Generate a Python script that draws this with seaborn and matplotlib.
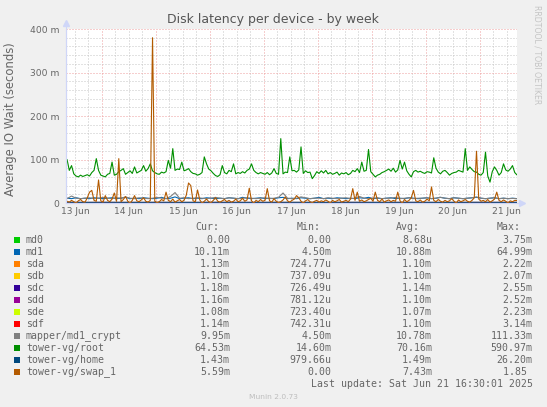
import numpy as np
import pandas as pd
import matplotlib
matplotlib.use("Agg")
import matplotlib.pyplot as plt
import matplotlib.dates as mdates
from matplotlib.ticker import MultipleLocator, FuncFormatter, NullFormatter
from matplotlib.patches import Rectangle
import seaborn as sns

# ---------------- data ----------------
series_names = ["md0", "md1", "sda", "sdb", "sdc", "sdd", "sde", "sdf",
                "mapper/md1_crypt", "tower-vg/root", "tower-vg/home", "tower-vg/swap_1"]
series_colors = ["#00CC00", "#0066B3", "#FF8000", "#FFCC00", "#330099", "#990099",
                 "#CCFF00", "#FF0000", "#808080", "#008F00", "#00487D", "#B35A00"]
cur_vals = ["0.00", "10.11m", "1.13m", "1.10m", "1.18m", "1.16m", "1.08m", "1.14m",
            "9.95m", "64.53m", "1.43m", "5.59m"]
min_vals = ["0.00", "4.50m", "724.77u", "737.09u", "726.49u", "781.12u", "723.40u",
            "742.31u", "4.50m", "14.60m", "979.66u", "0.00"]
avg_vals = ["8.68u", "10.88m", "1.10m", "1.10m", "1.14m", "1.10m", "1.07m", "1.10m",
            "10.78m", "70.16m", "1.49m", "7.43m"]
max_vals = ["3.75m", "64.99m", "2.22m", "2.07m", "2.55m", "2.52m", "2.23m", "3.14m",
            "111.33m", "590.97m", "26.20m", "1.85 "]

y_ticks_ms = [0, 100, 200, 300, 400]

# values in milliseconds (hourly for root / swap)
root_ms = [100, 75, 86, 67, 62, 60, 64, 61, 63, 65, 62, 70, 75, 102, 75, 64, 62, 60, 66, 68, 94, 64, 66, 72,
           75, 79, 66, 70, 74, 68, 83, 69, 72, 75, 86, 73, 79, 90, 74, 70, 67, 66, 71, 69, 72, 98, 80, 125,
           75, 78, 77, 94, 74, 76, 79, 72, 68, 67, 64, 66, 70, 106, 90, 78, 74, 68, 63, 61, 65, 86, 70, 67,
           75, 72, 90, 67, 70, 68, 72, 69, 75, 78, 90, 75, 70, 67, 70, 68, 66, 70, 65, 69, 79, 68, 66, 148,
           67, 71, 70, 106, 74, 75, 71, 76, 129, 68, 74, 70, 71, 56, 63, 72, 68, 74, 69, 75, 67, 70, 66, 68,
           71, 64, 69, 67, 70, 65, 68, 75, 72, 79, 70, 94, 73, 75, 123, 72, 66, 60, 64, 66, 70, 72, 75, 78,
           73, 80, 71, 76, 98, 78, 94, 74, 66, 60, 72, 75, 71, 73, 70, 68, 72, 71, 69, 104, 80, 71, 67, 73,
           75, 70, 64, 68, 70, 71, 75, 73, 71, 125, 75, 83, 77, 72, 71, 66, 64, 70, 117, 62, 48, 72, 83, 75,
           64, 70, 90, 76, 73, 78, 86, 70, 64.5]

swap_ms = [4, 2, 6, 3, 0, 5, 8, 3, 2, 12, 25, 29, 6, 4, 53, 5, 2, 17, 6, 3, 9, 23, 4, 102,
           3, 8, 15, 4, 0, 6, 17, 5, 3, 7, 12, 4, 2, 6, 380, 4, 1, 3, 8, 5, 25, 6, 3, 9,
           2, 5, 8, 3, 6, 18, 46, 40, 5, 3, 30, 7, 0, 4, 9, 3, 1, 6, 12, 4, 2, 5, 8, 3,
           6, 2, 4, 9, 3, 5, 11, 4, 7, 34, 5, 0, 6, 3, 8, 4, 6, 33, 5, 2, 10, 4, 1, 3,
           7, 14, 5, 2, 6, 9, 17, 12, 4, 0, 5, 8, 3, 1, 4, 6, 2, 5, 3, 7, 4, 0, 6, 3,
           5, 8, 2, 4, 6, 3, 9, 33, 6, 25, 4, 7, 3, 5, 8, 11, 4, 25, 6, 3, 9, 2, 5, 7,
           3, 6, 4, 25, 5, 0, 8, 3, 6, 12, 29, 5, 3, 7, 2, 4, 9, 5, 37, 6, 3, 8, 4, 2,
           6, 3, 5, 10, 4, 0, 7, 3, 5, 8, 4, 2, 6, 12, 119, 9, 4, 6, 3, 8, 2, 5, 9, 25,
           6, 3, 7, 4, 0, 5, 3, 6, 5.6]

# two-hourly
md1_ms = [11, 10, 12, 10, 11, 10, 12, 11, 10, 11,
          12, 10, 11, 13, 10, 11, 10, 12, 11, 10,
          11, 13, 10, 11, 14, 10, 11, 12, 10, 11,
          10, 12, 11, 10, 11, 10, 12, 11, 10, 13,
          11, 10, 11, 12, 10, 11, 10, 12, 13, 10,
          11, 10, 12, 11, 10, 11, 13, 10, 11, 10,
          12, 11, 10, 11, 10, 12, 11, 13, 10, 11,
          10, 11, 12, 10, 11, 10, 12, 11, 10, 11,
          12, 10, 11, 13, 11, 10, 12, 11, 10, 11,
          12, 13, 11, 10, 11, 12, 10, 11, 10, 11, 10.11]

mapper_ms = [10, 16, 11, 10, 11, 12, 10, 11, 13, 11,
             10, 12, 11, 14, 11, 10, 12, 11, 10, 11,
             13, 11, 10, 15, 24, 11, 12, 10, 11, 12,
             11, 10, 11, 13, 11, 10, 12, 11, 10, 11,
             12, 11, 10, 11, 12, 10, 11, 13, 23, 11,
             10, 11, 14, 12, 10, 11, 11, 10, 12, 11,
             10, 11, 12, 10, 11, 15, 11, 10, 11, 12,
             10, 11, 11, 13, 10, 11, 12, 10, 11, 11,
             12, 10, 11, 13, 11, 10, 12, 11, 10, 11,
             12, 14, 11, 10, 11, 12, 10, 11, 10, 10.5, 9.95]

# eight-hourly
home_ms = [1.5, 1.4, 1.6, 1.5, 1.45, 1.55, 1.5, 1.4, 1.6, 1.5, 1.45, 1.5, 1.55,
           1.5, 1.4, 1.5, 1.6, 1.45, 1.5, 1.55, 1.5, 1.4, 1.5, 1.6, 1.45, 1.43]

# twenty-hourly
sda_ms = [1.1, 1.12, 1.08, 1.1, 1.11, 1.09, 1.1, 1.12, 1.08, 1.1, 1.13]
sdb_ms = [1.1, 1.09, 1.11, 1.1, 1.08, 1.12, 1.1, 1.09, 1.11, 1.1, 1.10]
sdc_ms = [1.14, 1.13, 1.15, 1.14, 1.12, 1.16, 1.14, 1.13, 1.15, 1.14, 1.18]
sdd_ms = [1.1, 1.11, 1.09, 1.1, 1.12, 1.08, 1.1, 1.11, 1.09, 1.1, 1.16]
sde_ms = [1.07, 1.06, 1.08, 1.07, 1.05, 1.09, 1.07, 1.06, 1.08, 1.07, 1.08]
sdf_ms = [1.1, 1.11, 1.09, 1.1, 1.12, 1.08, 1.1, 1.11, 1.09, 1.1, 1.14]
md0_ms = [0.0, 0.01, 0.0, 0.0, 0.02, 0.0, 0.01, 0.0, 0.0, 0.01, 0.0]

series_values = [md0_ms, md1_ms, sda_ms, sdb_ms, sdc_ms, sdd_ms, sde_ms, sdf_ms,
                 mapper_ms, root_ms, home_ms, swap_ms]

t_first = pd.Timestamp("2025-06-13 08:30")
t_last = pd.Timestamp("2025-06-21 16:30")
view_start = pd.Timestamp("2025-06-13 08:02")

frames = []
for name, vals in zip(series_names, series_values):
    frames.append(pd.DataFrame({
        "time": pd.date_range(t_first, t_last, periods=len(vals)),
        "value": vals,
        "series": name,
    }))
df = pd.concat(frames, ignore_index=True)

# ---------------- style ----------------
sns.set_style("white")
plt.rcParams["font.family"] = ["DejaVu Sans"]

W, H = 547, 407
BG = "#F0F0F0"
FONT = "#666666"
AXIS = "#CFD6F8"
MGRID = "#EE9E9E"
GRID = "#C6C6C6"

def fx(px):
    return px / W

def fy(py):
    return 1 - py / H

fig = plt.figure(figsize=(W / 100, H / 100), dpi=100, facecolor=BG)
ax = fig.add_axes([fx(66), fy(203), (517 - 66) / W, (203 - 29) / H])
ax.set_facecolor("#FFFFFF")

sns.lineplot(data=df, x="time", y="value", hue="series", hue_order=series_names,
             palette=dict(zip(series_names, series_colors)), estimator=None,
             legend=False, linewidth=0.8, ax=ax)

ax.set_xlim(view_start, t_last)
ax.set_ylim(y_ticks_ms[0], y_ticks_ms[-1])
ax.set_xlabel("")
ax.set_ylabel("")

# x axis: midnight = major (red grid), 6h = minor (gray grid), labels at noon
ax.xaxis.set_major_locator(mdates.DayLocator())
ax.xaxis.set_major_formatter(NullFormatter())
ax.xaxis.set_minor_locator(mdates.HourLocator(byhour=[0, 6, 12, 18]))

def day_label(v, pos):
    d = mdates.num2date(v)
    return d.strftime("%d Jun") if d.hour == 12 else ""

ax.xaxis.set_minor_formatter(FuncFormatter(day_label))

ax.yaxis.set_major_locator(MultipleLocator(100))
ax.yaxis.set_minor_locator(MultipleLocator(20))
ax.yaxis.set_major_formatter(FuncFormatter(lambda v, p: "0" if v == 0 else f"{int(v)} m"))

dot = (0, (1, 2))
ax.grid(which="major", color=MGRID, linestyle=dot, linewidth=0.72)
ax.grid(which="minor", color=GRID, linestyle=dot, linewidth=0.72)
ax.set_axisbelow(True)

ax.tick_params(axis="x", which="major", length=2.5, width=0.8, color=MGRID, direction="out")
ax.tick_params(axis="x", which="minor", length=0, pad=3.2, labelsize=6.6, labelcolor=FONT)
ax.tick_params(axis="y", which="major", length=2.5, width=0.8, color=MGRID, direction="out",
               pad=2.0, labelsize=6.6, labelcolor=FONT)
ax.tick_params(axis="y", which="minor", length=0)

for s in ["top", "right"]:
    ax.spines[s].set_visible(False)
for s in ["left", "bottom"]:
    ax.spines[s].set_color(AXIS)
    ax.spines[s].set_linewidth(0.8)

# axis arrows
ax.plot([0, 0], [0, 1.035], transform=ax.transAxes, color=AXIS, lw=0.8, clip_on=False)
ax.plot([0], [1.035], marker="^", markersize=4, color=AXIS, transform=ax.transAxes, clip_on=False)
ax.plot([0, 1.01], [0, 0], transform=ax.transAxes, color=AXIS, lw=0.8, clip_on=False)
ax.plot([1.01], [0], marker=">", markersize=4, color=AXIS, transform=ax.transAxes, clip_on=False)

# titles
fig.text(fx(273), fy(20), "Disk latency per device - by week", ha="center", va="center",
         fontsize=9, color="#555555")
fig.text(fx(10.5), fy(119.5), "Average IO Wait (seconds)", rotation=90, ha="center",
         va="center", fontsize=8.4, color=FONT)
fig.text(fx(537), fy(55), "RRDTOOL / TOBI OETIKER", rotation=270, ha="center", va="center",
         fontsize=5.6, color="#C4C4C4")

# legend
mono = "DejaVu Sans Mono"
LFS = 7.15
hdr_y = 227
for txt, xl in [("Cur:", 195), ("Min:", 297), ("Avg:", 396), ("Max:", 497)]:
    fig.text(fx(xl), fy(hdr_y), txt, ha="left", va="center", family=mono, fontsize=LFS, color=FONT)

for k, name in enumerate(series_names):
    yy = 240 + 12 * k
    fig.add_artist(Rectangle((fx(14), fy(yy + 3)), 6 / W, 6 / H, transform=fig.transFigure,
                             facecolor=series_colors[k], edgecolor="none"))
    fig.text(fx(26), fy(yy), name, ha="left", va="center", family=mono, fontsize=LFS, color=FONT)
    for col, xr in [(cur_vals, 230), (min_vals, 331.7), (avg_vals, 432), (max_vals, 532.7)]:
        fig.text(fx(xr), fy(yy), col[k], ha="right", va="center", family=mono,
                 fontsize=LFS, color=FONT)

fig.text(fx(532.7), fy(383.7), "Last update: Sat Jun 21 16:30:01 2025", ha="right",
         va="center", family=mono, fontsize=LFS, color=FONT)
fig.text(fx(273), fy(397), "Munin 2.0.73", ha="center", va="center", fontsize=5.4,
         color="#BDBDBD")

fig.savefig("out.png", dpi=100, facecolor=BG)
